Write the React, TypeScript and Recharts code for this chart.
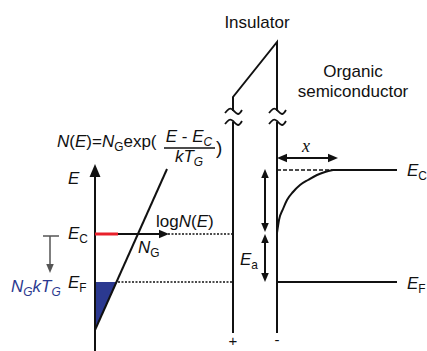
import React from "react";
import { Area, ComposedChart, Line, Scatter, XAxis, YAxis } from "recharts";

// diagram units match the pixels of the original figure (y grows downwards)
const energyAxis = [{ x: 95, y: 351 }, { x: 95, y: 174 }];
const dosLine = [{ x: 95, y: 330 }, { x: 167, y: 169 }];
const tailFill = [{ x: 95, r: [282, 330] }, { x: 117, r: [282, 282] }];
const ecRed = [{ x: 95, y: 234 }, { x: 118, y: 234 }];
const logNAxis = [{ x: 118, y: 234 }, { x: 161, y: 234 }];
const ecDotted = [{ x: 168, y: 234 }, { x: 233, y: 234 }];
const efDotted = [{ x: 118, y: 282 }, { x: 233, y: 282 }];
const insulatorTop = [{ x: 233, y: 111 }, { x: 233, y: 97 }, { x: 277, y: 42 }, { x: 277, y: 111 }];
const insulatorLeft = [{ x: 233, y: 122 }, { x: 233, y: 333 }];
const insulatorRight = [{ x: 277, y: 122 }, { x: 277, y: 333 }];
const ecDashed = [{ x: 277, y: 170 }, { x: 333, y: 170 }];
const ecBulk = [{ x: 333, y: 170 }, { x: 397, y: 170 }];
const efRight = [{ x: 277, y: 282 }, { x: 397, y: 282 }];
const bandBend = [
  { x: 277, y: 233 }, { x: 279, y: 220 }, { x: 283, y: 209 }, { x: 287, y: 200 },
  { x: 293, y: 192 }, { x: 300, y: 185 }, { x: 308, y: 180 }, { x: 317, y: 175 },
  { x: 325, y: 172 }, { x: 333, y: 170 },
];
const xArrow = [{ x: 282, y: 158 }, { x: 333, y: 158 }];
const eaUpper = [{ x: 265, y: 175 }, { x: 265, y: 227 }];
const eaLower = [{ x: 265, y: 239 }, { x: 265, y: 277 }];
const tailBar = [{ x: 43, y: 236 }, { x: 59, y: 236 }];
const tailStem = [{ x: 50, y: 236 }, { x: 50, y: 266 }];
// "~" break marks where the insulator lines are cut
const breakMarks = [
  [{ x: 225, y: 113 }, { x: 229, y: 109 }, { x: 233, y: 110 }, { x: 238, y: 114 }, { x: 242, y: 110 }],
  [{ x: 225, y: 124 }, { x: 229, y: 120 }, { x: 233, y: 121 }, { x: 238, y: 125 }, { x: 242, y: 121 }],
  [{ x: 269, y: 113 }, { x: 273, y: 109 }, { x: 277, y: 110 }, { x: 282, y: 114 }, { x: 286, y: 110 }],
  [{ x: 269, y: 124 }, { x: 273, y: 120 }, { x: 277, y: 121 }, { x: 282, y: 125 }, { x: 286, y: 121 }],
];
const arrowTips = [
  { x: 95, y: 164, dir: -90, s: 13 },
  { x: 169, y: 234, dir: 0, s: 10 },
  { x: 277, y: 158, dir: 180, s: 10 },
  { x: 338, y: 158, dir: 0, s: 10 },
  { x: 265, y: 169, dir: -90, s: 9 },
  { x: 265, y: 232, dir: 90, s: 9 },
  { x: 265, y: 234, dir: -90, s: 9 },
  { x: 265, y: 282, dir: 90, s: 9 },
];
const grayTips = [{ x: 50, y: 273, dir: 90, s: 9 }];

const FONT = "'Liberation Sans', Arial, Helvetica, sans-serif";
const BLUE = "#2b3990";
const RED = "#e8202a";

type Part = { t: string; i?: boolean; sub?: boolean };

function Rich({ x, y, parts, size = 17, fill = "#111", anchor = "start" }: {
  x: number; y: number; parts: Part[]; size?: number; fill?: string; anchor?: string;
}) {
  let shift = 0;
  return (
    <text x={x} y={y} fontFamily={FONT} fontSize={size} fill={fill} textAnchor={anchor as any}>
      {parts.map((p, k) => {
        const target = p.sub ? 4 : 0;
        const dy = target - shift;
        shift = target;
        return (
          <tspan key={k} dy={dy} fontStyle={p.i ? "italic" : "normal"} fontSize={p.sub ? size * 0.7 : size}>
            {p.t}
          </tspan>
        );
      })}
    </text>
  );
}

function ArrowHead(props: any) {
  const { cx, cy, payload, fill } = props;
  const s = payload.s;
  return (
    <polygon
      points={`0,0 ${-s},${-s * 0.42} ${-s},${s * 0.42}`}
      transform={`translate(${cx},${cy}) rotate(${payload.dir})`}
      fill={fill}
    />
  );
}

export default function App() {
  const line = (key: string, data: any[], opts: { color?: string; width?: number; dash?: string; type?: any } = {}) => (
    <Line
      key={key}
      data={data}
      dataKey="y"
      type={opts.type ?? "linear"}
      stroke={opts.color ?? "#111"}
      strokeWidth={opts.width ?? 2}
      strokeDasharray={opts.dash}
      dot={false}
      activeDot={false}
      isAnimationActive={false}
    />
  );
  return (
    <div style={{ position: "fixed", left: 0, top: 0, background: "#fff" }}>
      <ComposedChart width={427} height={351} margin={{ top: 0, right: 0, bottom: 0, left: 0 }}>
        <XAxis type="number" dataKey="x" domain={[0, 427]} hide allowDataOverflow />
        <YAxis type="number" dataKey="y" domain={[0, 351]} reversed hide allowDataOverflow />
        <Area
          data={tailFill}
          dataKey="r"
          type="linear"
          fill={BLUE}
          fillOpacity={1}
          stroke="none"
          isAnimationActive={false}
        />
        {line("axis", energyAxis)}
        {line("dos", dosLine)}
        {line("logN", logNAxis)}
        {line("ecRed", ecRed, { color: RED, width: 3 })}
        {line("ecDot", ecDotted, { width: 1.5, dash: "2 1.5" })}
        {line("efDot", efDotted, { width: 1.5, dash: "2 1.5" })}
        {line("insTop", insulatorTop)}
        {line("insL", insulatorLeft)}
        {line("insR", insulatorRight)}
        {line("ecDash", ecDashed, { width: 1.5, dash: "4 2" })}
        {line("ecBulk", ecBulk)}
        {line("efR", efRight)}
        {line("bend", bandBend, { type: "monotone" })}
        {line("xArr", xArrow)}
        {line("eaU", eaUpper)}
        {line("eaL", eaLower)}
        {line("tBar", tailBar, { color: "#555", width: 1.5 })}
        {line("tStem", tailStem, { color: "#555", width: 1.5 })}
        {breakMarks.map((m, k) => line(`brk${k}`, m, { type: "natural", width: 1.8 }))}
        <Scatter data={arrowTips} fill="#111" shape={ArrowHead} isAnimationActive={false} />
        <Scatter data={grayTips} fill="#555" shape={ArrowHead} isAnimationActive={false} />

        <Rich x={257} y={28} anchor="middle" parts={[{ t: "Insulator" }]} />
        <Rich x={353} y={77} anchor="middle" parts={[{ t: "Organic" }]} />
        <Rich x={353} y={97} anchor="middle" parts={[{ t: "semiconductor" }]} />
        <Rich
          x={57}
          y={147}
          parts={[
            { t: "N", i: true }, { t: "(" }, { t: "E", i: true }, { t: ")=" },
            { t: "N", i: true }, { t: "G", sub: true }, { t: "exp(" },
          ]}
        />
        <Rich x={189} y={142} anchor="middle" parts={[{ t: "E", i: true }, { t: " - " }, { t: "E", i: true }, { t: "C", i: true, sub: true }]} />
        <line x1={164} x2={215} y1={148} y2={148} stroke="#111" strokeWidth={1.3} />
        <Rich x={189} y={162} anchor="middle" parts={[{ t: "kT", i: true }, { t: "G", i: true, sub: true }]} />
        <Rich x={216} y={154} size={19} parts={[{ t: ")" }]} />
        <Rich x={68} y={184} parts={[{ t: "E", i: true }]} />
        <Rich x={156} y={227} parts={[{ t: "log" }, { t: "N", i: true }, { t: "(" }, { t: "E", i: true }, { t: ")" }]} />
        <Rich x={68} y={239} parts={[{ t: "E", i: true }, { t: "C", sub: true }]} />
        <Rich x={138} y={253} parts={[{ t: "N", i: true }, { t: "G", sub: true }]} />
        <Rich x={68} y={288} parts={[{ t: "E", i: true }, { t: "F", sub: true }]} />
        <Rich x={11} y={292} fill={BLUE} parts={[{ t: "N", i: true }, { t: "G", i: true, sub: true }, { t: "kT", i: true }, { t: "G", i: true, sub: true }]} />
        <text x={306} y={152} textAnchor="middle" fontFamily="'Liberation Serif', 'DejaVu Serif', serif" fontStyle="italic" fontSize={18} fill="#111">x</text>
        <Rich x={240} y={265} parts={[{ t: "E", i: true }, { t: "a", sub: true }]} />
        <Rich x={407} y={176} parts={[{ t: "E", i: true }, { t: "C", sub: true }]} />
        <Rich x={407} y={289} parts={[{ t: "E", i: true }, { t: "F", sub: true }]} />
        <Rich x={233} y={346} size={15} anchor="middle" parts={[{ t: "+" }]} />
        <Rich x={277} y={345} size={15} anchor="middle" parts={[{ t: "-" }]} />
      </ComposedChart>
    </div>
  );
}
